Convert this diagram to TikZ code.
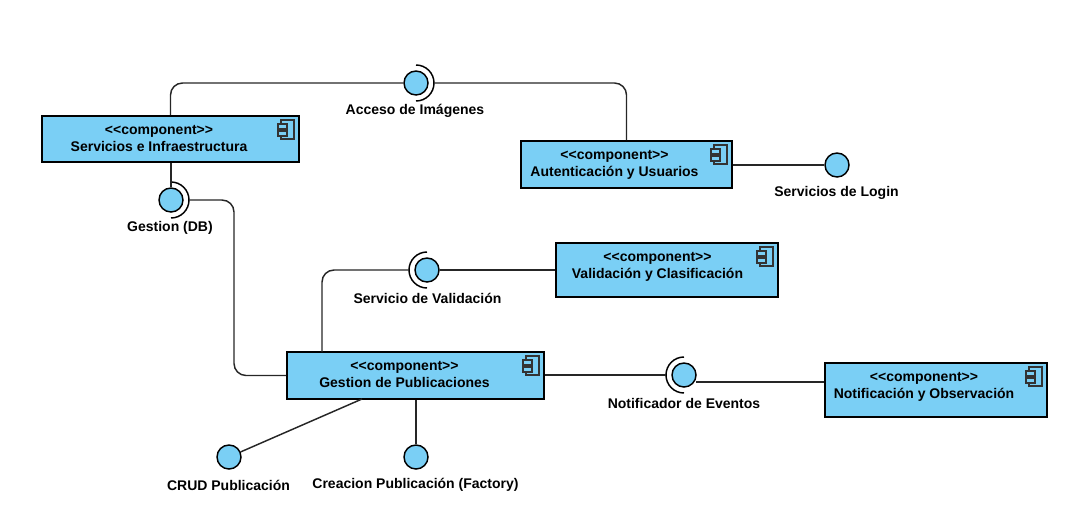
\documentclass[tikz,border=0pt]{standalone}
\usepackage{fontspec}
\setmainfont{Liberation Sans}
\usetikzlibrary{calc}
\definecolor{CompBlue}{RGB}{122, 207, 245}
\tikzset{
  compbox/.style={draw=black, line width=1.5pt, fill=CompBlue, anchor=north west, inner sep=0pt},
  comptext/.style={font=\fontsize{10.5}{12.75}\selectfont\bfseries, align=center, anchor=north, inner sep=0pt},
  iface/.style={circle, draw=black, line width=1.1pt, fill=CompBlue, minimum size=18pt, inner sep=0pt},
  ifacetext/.style={font=\fontsize{10.5}{12.75}\selectfont\bfseries, inner sep=0pt},
  conn/.style={draw=black!85, line width=1.1pt, rounded corners=9pt},
  sock/.style={draw=black, line width=1.1pt},
  pics/compicon/.style={code={
    \draw[line width=0.9pt, draw=black!80] (-19,5) rectangle (-6,24);
    \draw[line width=0.9pt, draw=black!80, fill=CompBlue] (-22,9) rectangle (-13,14);
    \draw[line width=0.9pt, draw=black!80, fill=CompBlue] (-22,16) rectangle (-13,21);
  }}
}

\begin{document}
\begin{tikzpicture}[x=0.75pt, y=-0.75pt]
  \useasboundingbox (0,0) rectangle (1067,507);

  % Components
  \node[compbox, minimum width=192.75pt, minimum height=34.5pt] (srv) at (41,115) {};
  \node[compbox, minimum width=158.25pt, minimum height=35.25pt] (aut) at (520,140) {};
  \node[compbox, minimum width=166.5pt, minimum height=40.5pt] (val) at (555,242) {};
  \node[compbox, minimum width=192.75pt, minimum height=35.25pt] (pub) at (286,351) {};
  \node[compbox, minimum width=166.5pt, minimum height=40.5pt] (obs) at (824,362) {};

  % Component texts
  \node[comptext] (srvtext) at ($(srv.north)+(-11.5,10)$) {{<}{<}component{>}{>}\\Servicios e Infraestructura};
  \node[comptext] (auttext) at ($(aut.north)+(-12,10)$) {{<}{<}component{>}{>}\\Autenticación y Usuarios};
  \node[comptext] (valtext) at ($(val.north)+(-9.5,10)$) {{<}{<}component{>}{>}\\Validación y Clasificación};
  \node[comptext] (pubtext) at ($(pub.north)+(-11,10)$) {{<}{<}component{>}{>}\\Gestion de Publicaciones};
  \node[comptext] (obstext) at ($(obs.north)+(-12,10)$) {{<}{<}component{>}{>}\\Notificación y Observación};

  % Component icons
  \pic at (srv.north east) {compicon};
  \pic at (aut.north east) {compicon};
  \pic at (val.north east) {compicon};
  \pic at (pub.north east) {compicon};
  \pic at (obs.north east) {compicon};

  % Interfaces
  \node[iface] (acc) at (416,83) {};
  \node[iface] (login) at (837,165) {};
  \node[iface] (db) at (171,200) {};
  \node[iface] (sval) at (427,270) {};
  \node[iface] (notif) at (684,375) {};
  \node[iface] (crud) at (229,457) {};
  \node[iface] (fact) at (416,457) {};

  % Interface labels
  \node[ifacetext] (acclabel) at (415,111) {Acceso de Imágenes};
  \node[ifacetext] (loginlabel) at (836.5,193) {Servicios de Login};
  \node[ifacetext] (dblabel) at (170,228) {Gestion (DB)};
  \node[ifacetext] (svallabel) at (427.5,298) {Servicio de Validación};
  \node[ifacetext] (notiflabel) at (684,403) {Notificador de Eventos};
  \node[ifacetext] (crudlabel) at (228.5,485) {CRUD Publicación};
  \node[ifacetext] (factlabel) at (415.5,485) {Creacion Publicación (Factory)};

  % Sockets
  \draw[sock] (416,65) arc[start angle=90, end angle=-90, radius=13.5pt];
  \draw[sock] (171,182) arc[start angle=90, end angle=-90, radius=13.5pt];
  \draw[sock] (427,252) arc[start angle=90, end angle=270, radius=13.5pt];
  \draw[sock] (684,357) arc[start angle=90, end angle=270, radius=13.5pt];
  \coordinate (accsock) at (434,83);
  \coordinate (dbsock) at (189,200);
  \coordinate (svalsock) at (409,270);
  \coordinate (notifsock) at (666,375);
  \coordinate (notifout) at (696,382);
  \coordinate (pubtop) at (322,352);
  \coordinate (pubdown) at (362,399);

  % Connectors
  \draw[conn] (srv.north) |- (acc.west);
  \draw[conn] (accsock) -| (aut.north);
  \draw[conn] (srv.south -| db.north) -- (db.north);
  \draw[conn] (dbsock) -| (234,288) |- (pub.west);
  \draw[conn] (pubtop) |- (svalsock);
  \draw[conn] (sval.east) -- (val.west |- sval.east);
  \draw[conn] (pub.east |- notifsock) -- (notifsock);
  \draw[conn] (notifout) -- (obs.west |- notifout);
  \draw[conn] (aut.east |- login.west) -- (login.west);
  \draw[conn] (pubdown) -- (crud);
  \draw[conn] (fact.north |- pub.south) -- (fact.north);
\end{tikzpicture}
\end{document}
